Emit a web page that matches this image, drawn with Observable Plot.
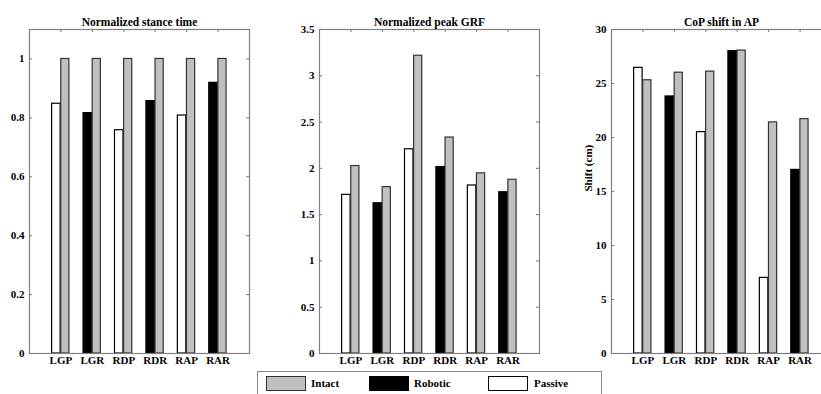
<!DOCTYPE html>
<html>
<head>
<meta charset="utf-8">
<script src="https://cdn.jsdelivr.net/npm/d3@7"></script>
<script src="https://cdn.jsdelivr.net/npm/@observablehq/plot@0.6"></script>
<style>
  html, body { margin: 0; padding: 0; background: #fff; }
  #wrap { position: relative; width: 821px; height: 394px; overflow: hidden; background: #fff; }
  .panel { position: absolute; top: 0; width: 300px; height: 394px; }
  .panel svg { max-width: none !important; display: block; }
  .panel svg, .panel svg text { font-family: "Liberation Serif", "Times New Roman", serif !important; font-weight: bold; }
  #legend { position: absolute; left: 257px; top: 371px; width: 345px; height: 40px; border: 1px solid #888; box-sizing: border-box; font-family: "Liberation Serif", serif; font-weight: bold; font-size: 11px; }
  .sw { position: absolute; top: 4px; width: 40px; height: 15px; box-sizing: border-box; border: 1px solid #000; }
  .lt { position: absolute; top: 5px; line-height: 13px; }
</style>
</head>
<body>
<div id="wrap">
  <div id="p1" class="panel" style="left:0px"></div>
  <div id="p2" class="panel" style="left:290px"></div>
  <div id="p3" class="panel" style="left:560px"></div>
  <div id="legend">
    <div class="sw" style="left:8px;background:#c0c0c0;border-color:#333"></div><div class="lt" style="left:53px">Intact</div>
    <div class="sw" style="left:111px;background:#000"></div><div class="lt" style="left:156px">Robotic</div>
    <div class="sw" style="left:230px;background:#fff"></div><div class="lt" style="left:276px">Passive</div>
  </div>
</div>
<script>
const categories = ["LGP", "LGR", "RDP", "RDR", "RAP", "RAR"];
const condition = ["Passive", "Robotic", "Passive", "Robotic", "Passive", "Robotic"];

const stanceIntact = [1, 1, 1, 1, 1, 1];
const stanceProsthetic = [0.848, 0.816, 0.758, 0.857, 0.808, 0.919];

const grfIntact = [2.025, 1.797, 3.217, 2.333, 1.946, 1.877];
const grfProsthetic = [1.714, 1.623, 2.206, 2.014, 1.815, 1.742];

const copIntact = [25.3, 26.0, 26.1, 28.05, 21.4, 21.7];
const copProsthetic = [26.45, 23.8, 20.5, 28.0, 7.0, 17.0];

const stanceTicks = [0, 0.2, 0.4, 0.6, 0.8, 1];
const grfTicks = [0, 0.5, 1, 1.5, 2, 2.5, 3, 3.5];
const copTicks = [0, 5, 10, 15, 20, 25, 30];

const FONT = "'Liberation Serif', 'Times New Roman', serif";

function panel({intact, prosthetic, ymax, yticks, title, ylabel, marginLeft, width}) {
  const rows = categories.map((c, i) => ({i, c, cond: condition[i], intact: intact[i], pros: prosthetic[i]}));
  const pos = d3.range(1, categories.length + 1);
  const tickX = 7 * 3 / 220;
  const tickY = ymax * 3 / 324;
  const marks = [
    Plot.rect(rows.filter(d => d.cond === "Passive"), {x1: d => d.i + 1 - 0.28, x2: d => d.i + 1 - 0.01, y1: 0, y2: "pros", fill: "#fff", stroke: "#000", strokeWidth: 1.2}),
    Plot.rect(rows.filter(d => d.cond === "Robotic"), {x1: d => d.i + 1 - 0.28, x2: d => d.i + 1 - 0.01, y1: 0, y2: "pros", fill: "#000", stroke: "#000", strokeWidth: 1.2}),
    Plot.rect(rows, {x1: d => d.i + 1 + 0.01, x2: d => d.i + 1 + 0.27, y1: 0, y2: "intact", fill: "#c0c0c0", stroke: "#333", strokeWidth: 1.2}),
    Plot.ruleY(yticks, {x1: 0, x2: tickX, stroke: "#777"}),
    Plot.ruleY(yticks, {x1: 7 - tickX, x2: 7, stroke: "#777"}),
    Plot.ruleX(pos, {y1: ymax - tickY, y2: ymax, stroke: "#777"}),
    Plot.frame({stroke: "#808080", strokeWidth: 1.2}),
    Plot.axisX({ticks: pos, tickSize: 0, tickPadding: 3, tickFormat: v => categories[v - 1], fontSize: 11, fill: "#000"}),
    Plot.axisY({ticks: yticks, tickSize: 0, tickPadding: 5, tickFormat: d => String(d), fontSize: 11, label: null, fill: "#000"}),
    Plot.text([title], {frameAnchor: "top", dy: -12, fontSize: 11.5, fontWeight: "bold", fill: "#000"})
  ];
  if (ylabel) marks.push(Plot.text([ylabel], {frameAnchor: "left", dx: -23, rotate: -90, fontSize: 11, fontWeight: "bold", fill: "#000"}));
  return Plot.plot({
    width, height: 394,
    marginLeft, marginRight: width - marginLeft - 220, marginTop: 29, marginBottom: 41,
    x: {domain: [0, 7], axis: null},
    y: {domain: [0, ymax], axis: null},
    style: {fontFamily: FONT, fontWeight: "bold", fontSize: "11px", background: "transparent", color: "#000"},
    marks
  });
}

document.getElementById("p1").appendChild(panel({intact: stanceIntact, prosthetic: stanceProsthetic, ymax: 1.1, yticks: stanceTicks, title: "Normalized stance time", marginLeft: 29, width: 269}));
document.getElementById("p2").appendChild(panel({intact: grfIntact, prosthetic: grfProsthetic, ymax: 3.5, yticks: grfTicks, title: "Normalized peak GRF", marginLeft: 29, width: 269}));
document.getElementById("p3").appendChild(panel({intact: copIntact, prosthetic: copProsthetic, ymax: 30, yticks: copTicks, title: "CoP shift in AP", ylabel: "Shift (cm)", marginLeft: 51, width: 281}));
</script>
</body>
</html>
